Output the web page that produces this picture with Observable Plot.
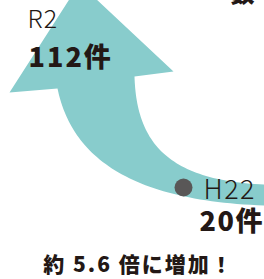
<!DOCTYPE html>
<html><head><meta charset="utf-8">
<script src="https://cdn.jsdelivr.net/npm/d3@7"></script>
<script src="https://cdn.jsdelivr.net/npm/@observablehq/plot@0.6"></script>
<style>
html,body{margin:0;padding:0;background:#fff}
#chart svg{display:block}
</style>
</head><body><div id="chart"></div>
<script>
// ---- data ----
const periods = ["H22", "R2"];
const years = [2010, 2020];
const counts = [20, 112];
const unit = "件";
const titleFragment = "数";

const rows = periods.map((p, i) => ({period: p, year: years[i], count: counts[i]}));
const ratio = (counts[1] / counts[0]).toFixed(1);
const caption = `約 ${ratio} 倍に増加！`;

// ---- layout ----
const W = 264, H = 279;
const xDomain = [2010, 2020], xRange = [183, 79];
const yDomain = [20, 112], yRange = [187, -17];
const sx = d3.scaleLinear(xDomain, xRange), sy = d3.scaleLinear(yDomain, yRange);

// arrow shape (decoration) built in pixel space from the two data points, then mapped back to data space
function cubic(p0, c1, c2, p3, n) {
  const out = [];
  for (let i = 0; i <= n; i++) {
    const t = i / n, u = 1 - t;
    out.push([
      u*u*u*p0[0] + 3*u*u*t*c1[0] + 3*u*t*t*c2[0] + t*t*t*p3[0],
      u*u*u*p0[1] + 3*u*u*t*c1[1] + 3*u*t*t*c2[1] + t*t*t*p3[1]
    ]);
  }
  return out;
}
const tip = [sx(years[1]), sy(counts[1])];
const inner = cubic([134, 76], [136, 140], [165, 180], [264, 184], 60);
const outer = cubic([57, 88], [70, 150], [120, 200], [264, 205], 60).reverse();
const px = [
  tip, [173, 71],
  ...inner, [300, 184], [300, 205],
  ...outer, [9, 92], tip
];
const outline = px.map(([a, b]) => ({x: sx.invert(a), y: sy.invert(b)}));

const font = "'Noto Sans CJK JP', 'Noto Sans', sans-serif";
const ink = "#231815";

const chart = Plot.plot({
  width: W, height: H,
  margin: 0,
  x: {domain: xDomain, range: xRange, axis: null},
  y: {domain: yDomain, range: yRange, axis: null},
  style: {background: "#fff", fontFamily: font},
  marks: [
    Plot.line(outline, {x: "x", y: "y", fill: "#88cccc", stroke: "none", curve: "linear"}),
    Plot.dot([rows[0]], {x: "year", y: "count", r: 9, fill: "#595757", stroke: "none"}),
    // H22 labels
    Plot.text([rows[0]], {x: "year", y: "count", text: "period", textAnchor: "start", dx: 20, dy: 3,
      fontSize: 27, fontWeight: 300, fill: ink, fontFamily: font}),
    Plot.text([rows[0]], {x: "year", y: "count", text: d => d.count + unit, textAnchor: "start", dx: 16, dy: 35,
      fontSize: 27, fontWeight: 900, fill: ink, fontFamily: font}),
    // R2 labels
    Plot.text([rows[1]], {x: "year", y: "count", text: "period", textAnchor: "start", dx: -52, dy: 36,
      fontSize: 25, fontWeight: 300, fill: ink, fontFamily: font}),
    Plot.text([rows[1]], {x: "year", y: "count", text: d => d.count + unit, textAnchor: "start", dx: -51, dy: 75,
      fontSize: 27, fontWeight: 900, fill: ink, fontFamily: font}),
    // caption
    Plot.text([caption], {frameAnchor: "bottom", text: d => d, lineAnchor: "middle", dx: 6, dy: -14,
      fontSize: 21, fontWeight: 900, fill: ink, fontFamily: font}),
    // cut-off title fragment
    Plot.text([titleFragment], {frameAnchor: "top-right", text: d => d, textAnchor: "middle", lineAnchor: "middle",
      dx: -22, dy: -6, fontSize: 24, fontWeight: 900, fill: ink, fontFamily: font})
  ]
});
// letter spacing per text mark (in mark order)
const spacing = ["1.5px", "1.5px", "1px", "2px", "2px", "0px"];
chart.querySelectorAll('g[aria-label="text"]').forEach((g, i) => {
  g.style.letterSpacing = spacing[i] || "0px";
});
document.getElementById("chart").append(chart);
</script>
</body></html>
